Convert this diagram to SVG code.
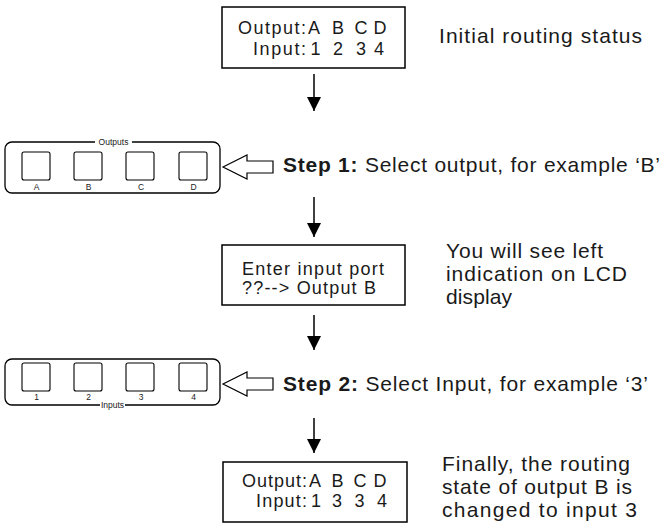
<svg xmlns="http://www.w3.org/2000/svg" width="667" height="524" viewBox="0 0 667 524">
<style>
.box{fill:#fff;stroke:#000;stroke-width:1.5}
.panel{fill:none;stroke:#000;stroke-width:1.3}
.btn{fill:#fff;stroke:#000;stroke-width:1.1}
.hollow{fill:#fff;stroke:#000;stroke-width:1.2;stroke-linejoin:miter}
.line{stroke:#000;stroke-width:1.5;fill:none}
.t{font-family:"Liberation Sans",Arial,sans-serif;fill:#1a1a1a}
.lg{font-size:21px}
.md{font-size:18px}
.sm{font-size:8.5px}
.c{text-anchor:middle}
</style>
<defs>
<marker id="ah" viewBox="0 0 14 14" refX="14" refY="7" markerWidth="14" markerHeight="14" markerUnits="userSpaceOnUse" orient="auto">
<path d="M0,0 L14,7 L0,14 Z" fill="#000"/>
</marker>
</defs>
<rect width="667" height="524" fill="#fff"/>

<g id="connectors">
<line class="line" x1="314" y1="74" x2="314" y2="111" marker-end="url(#ah)"/>
<line class="line" x1="314" y1="197" x2="314" y2="237" marker-end="url(#ah)"/>
<line class="line" x1="314" y1="315" x2="314" y2="350" marker-end="url(#ah)"/>
<line class="line" x1="314" y1="418" x2="314" y2="453" marker-end="url(#ah)"/>
<polygon class="hollow" points="223,167 247,155 247,161 273,161 273,173 247,173 247,179"/>
<polygon class="hollow" points="223,384 247,372 247,378 273,378 273,390 247,390 247,396"/>
</g>

<g id="initial-status">
<rect class="box" x="222" y="7" width="183" height="61"/>
<text class="t md" x="238" y="34" textLength="68" lengthAdjust="spacing">Output:</text>
<text class="t md" x="253" y="55" textLength="53" lengthAdjust="spacing">Input:</text>
<g class="t md c">
<text x="314" y="34">A</text><text x="338" y="34">B</text><text x="361" y="34">C</text><text x="380" y="34">D</text>
<text x="315.5" y="55">1</text><text x="338" y="55">2</text><text x="361" y="55">3</text><text x="379" y="55">4</text>
</g>
</g>
<text id="label-initial" class="t lg" x="439" y="43" textLength="203" lengthAdjust="spacing">Initial routing status</text>

<g id="outputs-panel">
<path class="panel" d="M95,142 H12 A7,7 0 0 0 5,149 V186 A7,7 0 0 0 12,193 H213 A7,7 0 0 0 220,186 V149 A7,7 0 0 0 213,142 H132"/>
<text class="t sm c" x="113.5" y="145">Outputs</text>
<rect class="btn" x="22" y="152" width="28" height="28" rx="2"/>
<rect class="btn" x="74" y="152" width="28" height="28" rx="2"/>
<rect class="btn" x="126" y="152" width="28" height="28" rx="2"/>
<rect class="btn" x="179" y="152" width="28" height="28" rx="2"/>
<g class="t sm c">
<text x="36.5" y="190">A</text><text x="88.5" y="190">B</text><text x="141" y="190">C</text><text x="193.5" y="190">D</text>
</g>
</g>
<text id="step1" class="t lg" x="283" y="172" textLength="377" lengthAdjust="spacing"><tspan font-weight="bold">Step 1:</tspan> Select output, for example ‘B’</text>

<g id="lcd-prompt">
<rect class="box" x="222" y="245" width="183" height="60"/>
<text class="t md" x="242" y="275" textLength="142" lengthAdjust="spacing">Enter input port</text>
<text class="t md" x="242" y="294" textLength="134" lengthAdjust="spacing">??--&gt; Output B</text>
</g>
<g id="label-lcd" class="t lg">
<text x="446" y="258" textLength="157" lengthAdjust="spacing">You will see left</text>
<text x="446" y="281" textLength="181" lengthAdjust="spacing">indication on LCD</text>
<text x="446" y="304" textLength="66" lengthAdjust="spacing">display</text>
</g>

<g id="inputs-panel">
<path class="panel" d="M100,405 H12 A7,7 0 0 1 5,398 V366 A7,7 0 0 1 12,359 H213 A7,7 0 0 1 220,366 V398 A7,7 0 0 1 213,405 H125"/>
<text class="t sm c" x="112.5" y="408">Inputs</text>
<rect class="btn" x="22" y="363" width="28" height="28" rx="2"/>
<rect class="btn" x="74" y="363" width="28" height="28" rx="2"/>
<rect class="btn" x="126" y="363" width="28" height="28" rx="2"/>
<rect class="btn" x="179" y="363" width="28" height="28" rx="2"/>
<g class="t sm c">
<text x="36.5" y="400">1</text><text x="88.5" y="400">2</text><text x="141" y="400">3</text><text x="193.5" y="400">4</text>
</g>
</g>
<text id="step2" class="t lg" x="283" y="391" textLength="365" lengthAdjust="spacing"><tspan font-weight="bold">Step 2:</tspan> Select Input, for example ‘3’</text>

<g id="final-status">
<rect class="box" x="223" y="462" width="184" height="60"/>
<text class="t md" x="242" y="487" textLength="65" lengthAdjust="spacing">Output:</text>
<text class="t md" x="256" y="507" textLength="51" lengthAdjust="spacing">Input:</text>
<g class="t md c">
<text x="315" y="487">A</text><text x="337.5" y="487">B</text><text x="360" y="487">C</text><text x="380" y="487">D</text>
<text x="316" y="507">1</text><text x="337" y="507">3</text><text x="359.5" y="507">3</text><text x="382" y="507">4</text>
</g>
</g>
<g id="label-final" class="t lg">
<text x="442" y="471" textLength="188" lengthAdjust="spacing">Finally, the routing</text>
<text x="442" y="494" textLength="190" lengthAdjust="spacing">state of output B is</text>
<text x="442" y="517" textLength="195" lengthAdjust="spacing">changed to input 3</text>
</g>
</svg>
